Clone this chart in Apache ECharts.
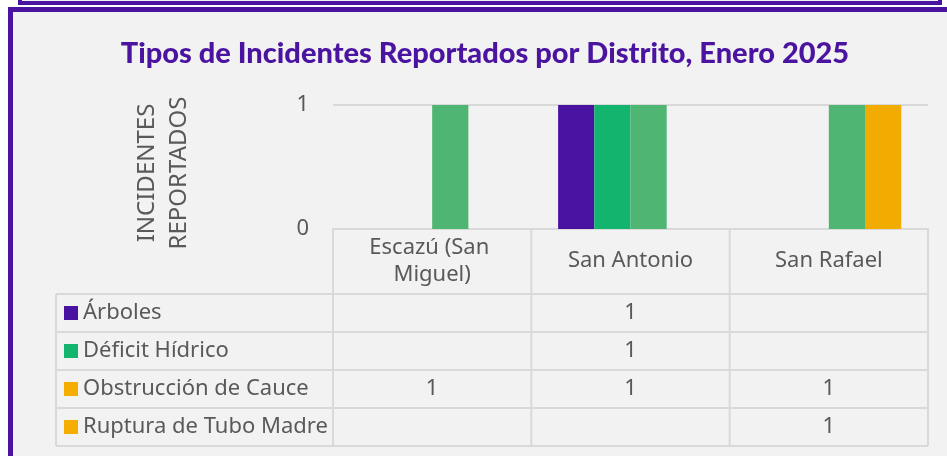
<!DOCTYPE html>
<html>
<head>
<meta charset="utf-8">
<script src="https://cdn.jsdelivr.net/npm/echarts@6/dist/echarts.min.js"></script>
<style>
  html, body { margin: 0; padding: 0; background: #ffffff; }
  #chart { width: 947px; height: 456px; }
</style>
</head>
<body>
<div id="chart"></div>
<script>
// datos del gráfico
const categories = ['Escazú (San Miguel)', 'San Antonio', 'San Rafael']
const seriesNames = ['Árboles', 'Déficit Hídrico', 'Obstrucción de Cauce', 'Ruptura de Tubo Madre']
const arboles = [null, 1, null]
const deficitHidrico = [null, 1, null]
const obstruccionCauce = [1, 1, 1]
const rupturaTuboMadre = [null, null, 1]
const yTicks = [0, 1]

const seriesData = [arboles, deficitHidrico, obstruccionCauce, rupturaTuboMadre]
const barColors = ['#4a12a0', '#13b56e', '#4fb573', '#f2ab00']
const keyColors = ['#4a12a0', '#13b56e', '#f5ad00', '#f5ad00']
const purple = '#4b14a0'
const lineColor = '#d9d9d9'
const textColor = '#595959'
const font = '"Noto Sans", sans-serif'

const chart = echarts.init(document.getElementById('chart'))

chart.setOption({
  backgroundColor: '#ffffff',
  animation: false,
  title: {
    text: 'Tipos de Incidentes Reportados por Distrito, Enero 2025',
    left: 480,
    textAlign: 'center',
    top: 34,
    textStyle: {
      color: purple,
      fontFamily: 'Lato, sans-serif',
      fontWeight: 900,
      fontSize: 29
    }
  },
  grid: { left: 333, right: 19, top: 105, bottom: 227 },
  xAxis: {
    type: 'category',
    data: categories,
    axisLine: { show: true, lineStyle: { color: lineColor, width: 2 } },
    axisTick: { show: false },
    axisLabel: {
      interval: 0,
      margin: 32,
      verticalAlign: 'middle',
      color: textColor,
      fontFamily: font,
      fontSize: 22,
      lineHeight: 27,
      width: 160,
      overflow: 'break'
    }
  },
  yAxis: {
    type: 'value',
    min: yTicks[0],
    max: yTicks[yTicks.length - 1],
    interval: 1,
    axisLine: { show: false },
    axisTick: { show: false },
    splitLine: { lineStyle: { color: lineColor, width: 2 } },
    axisLabel: {
      margin: 24,
      color: textColor,
      fontFamily: font,
      fontSize: 22
    }
  },
  series: seriesNames.map((name, i) => ({
    name: name,
    type: 'bar',
    data: seriesData[i],
    barGap: '0%',
    barCategoryGap: '27%',
    itemStyle: { color: barColors[i] }
  }))
})

// marco y tabla de datos
const x0 = chart.convertToPixel({ xAxisIndex: 0 }, 0)
const x1 = chart.convertToPixel({ xAxisIndex: 0 }, 1)
const colW = x1 - x0
const tableLeft = 56
const axisY = 229
const headBottom = 294
const rowH = 38
const elements = []

// fondo y bordes morados
elements.push({
  type: 'rect', z: -10,
  shape: { x: 20, y: -20, width: 920, height: 23 },
  style: { fill: '#f2f2f2', stroke: purple, lineWidth: 4 }
})
elements.push({
  type: 'rect', z: -10,
  shape: { x: 10.5, y: 9.5, width: 980, height: 480 },
  style: { fill: '#f2f2f2', stroke: purple, lineWidth: 5 }
})

// título del eje Y
elements.push({
  type: 'text',
  x: 163, y: 173,
  rotation: Math.PI / 2,
  style: {
    text: 'INCIDENTES\nREPORTADOS',
    fill: textColor,
    font: '24px ' + font,
    lineHeight: 32,
    align: 'center',
    verticalAlign: 'middle'
  }
})

const tableBottom = headBottom + rowH * seriesNames.length
const tableRight = x0 + (categories.length - 0.5) * colW
const lines = []
// verticales
for (let i = 0; i <= categories.length; i++) {
  const x = x0 + (i - 0.5) * colW
  lines.push([x, axisY, x, tableBottom])
}
lines.push([tableLeft, headBottom, tableLeft, tableBottom])
// horizontales
for (let r = 0; r <= seriesNames.length; r++) {
  const y = headBottom + r * rowH
  lines.push([tableLeft, y, tableRight, y])
}
lines.forEach(l => {
  elements.push({
    type: 'line',
    shape: { x1: l[0], y1: l[1], x2: l[2], y2: l[3] },
    style: { stroke: lineColor, lineWidth: 2 }
  })
})

seriesNames.forEach((name, r) => {
  const cy = headBottom + r * rowH + rowH / 2
  elements.push({
    type: 'rect',
    shape: { x: 64, y: cy - 7, width: 14, height: 14 },
    style: { fill: keyColors[r] }
  })
  elements.push({
    type: 'text',
    x: 83, y: cy,
    style: { text: name, fill: textColor, font: '22px ' + font, verticalAlign: 'middle' }
  })
  seriesData[r].forEach((v, i) => {
    if (v === null) return
    elements.push({
      type: 'text',
      x: x0 + i * colW, y: cy,
      style: { text: String(v), fill: textColor, font: '22px ' + font, align: 'center', verticalAlign: 'middle' }
    })
  })
})

chart.setOption({ graphic: { elements: elements } })
</script>
</body>
</html>
